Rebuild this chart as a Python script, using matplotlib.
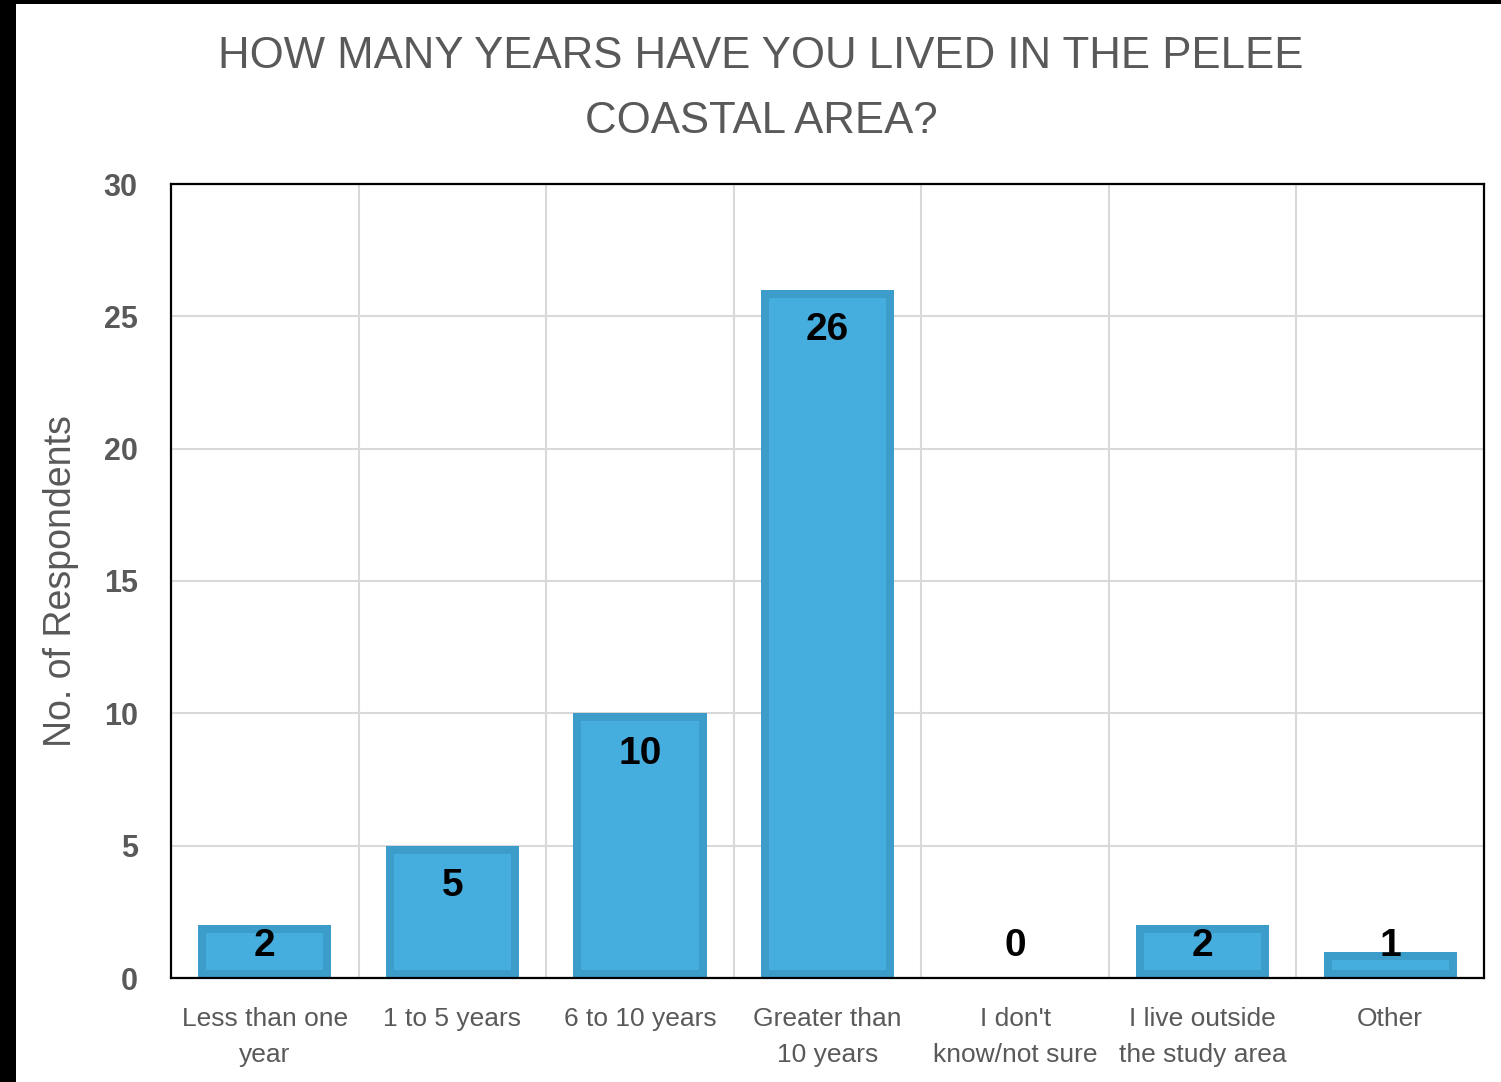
import matplotlib.pyplot as plt
from matplotlib.patches import Rectangle
import numpy as np

# data
categories = ["Less than one\nyear", "1 to 5 years", "6 to 10 years", "Greater than\n10 years",
              "I don't\nknow/not sure", "I live outside\nthe study area", "Other"]
respondents = [2, 5, 10, 26, 0, 2, 1]
y_ticks = [0, 5, 10, 15, 20, 25, 30]

title_txt = "HOW MANY YEARS HAVE YOU LIVED IN THE PELEE\nCOASTAL AREA?"
ylabel_txt = "No. of Respondents"

face_col = "#45AEDF"
edge_col = "#3D9DCA"
grey = "#595959"
plt.rcParams['font.family'] = ['Liberation Sans', 'DejaVu Sans']

fig = plt.figure(figsize=(15.01, 10.82), dpi=100, facecolor="black")
# white page area (black strips at left and top like the screenshot)
fig.patches.append(Rectangle((16 / 1501, 0), 1, (1082 - 4) / 1082, transform=fig.transFigure,
                             facecolor="white", edgecolor="none", zorder=-5))

ax = fig.add_axes([171 / 1501, 1 - 978 / 1082, (1484 - 171) / 1501, (978 - 184) / 1082])
ax.set_facecolor("white")

x = np.arange(len(categories))
bars = ax.bar(x, respondents, width=0.71, color=face_col, edgecolor=edge_col,
              linewidth=11.5, zorder=3)
for b in bars:
    b.set_clip_path(b)  # keep only the inner half of the outline

# value labels: inside the top of the bar, but never lower than near the base
for xi, v in zip(x, respondents):
    ypos = max(v - 1.52, 1.22)
    ax.text(xi, ypos, str(v), ha="center", va="center", fontsize=28,
            fontweight="bold", color="black", zorder=4)

ax.set_xlim(-0.5, len(categories) - 0.5)
ax.set_ylim(0, 30)
ax.set_yticks(y_ticks)
ax.set_yticklabels([str(t) for t in y_ticks], fontsize=22, fontweight="bold", color=grey)
ax.set_xticks(x)
ax.set_xticklabels(categories, fontsize=19, color=grey, linespacing=1.6, va="top")
ax.set_xticks(np.arange(len(categories) - 1) + 0.5, minor=True)
ax.tick_params(axis="both", which="both", length=0)
ax.tick_params(axis="y", pad=24)
ax.tick_params(axis="x", pad=21)

ax.grid(True, axis="y", which="major", color="#D9D9D9", linewidth=1.5, zorder=0)
ax.grid(True, axis="x", which="minor", color="#D9D9D9", linewidth=1.5, zorder=0)
ax.set_axisbelow(True)
for s in ax.spines.values():
    s.set_color("black")
    s.set_linewidth(1.6)
    s.set_zorder(5)

ax.set_ylabel(ylabel_txt, fontsize=27, color=grey, labelpad=18)
fig.text(761 / 1501, 1 - 89 / 1082, title_txt, ha="center", va="center",
         fontsize=31.5, color=grey, linespacing=1.75)

fig.savefig("out.png", dpi=100, facecolor="black")
